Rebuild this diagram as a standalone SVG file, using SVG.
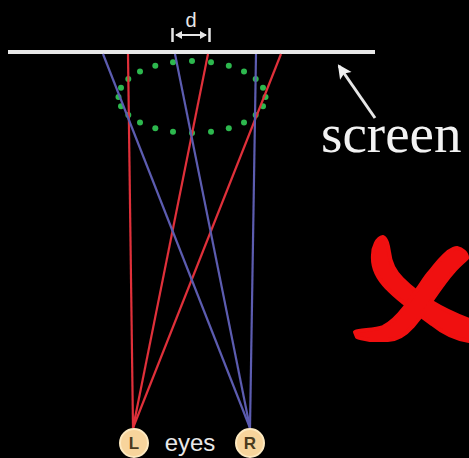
<svg xmlns="http://www.w3.org/2000/svg" width="469" height="458" viewBox="0 0 469 458">
<defs>
<style>
.red{stroke:#e0303a;stroke-width:2.2;fill:none}
.blue{stroke:#5c5cb0;stroke-width:2.2;fill:none}
.dot{fill:#2db84e}
.wl{stroke:#e6e6e6;fill:none}
.eye{fill:#f7d49c;stroke:#fde9c0;stroke-width:2}
.eyet{font-family:"Liberation Sans",Arial,sans-serif;font-size:17px;font-weight:bold;fill:#4a3b1e;text-anchor:middle}
</style>
<marker id="ah" markerWidth="8" markerHeight="8" refX="6" refY="4" orient="auto-start-reverse" markerUnits="userSpaceOnUse">
<path d="M0,0 L7,4 L0,8 Z" fill="#e6e6e6"/>
</marker>
<marker id="bigah" markerWidth="16" markerHeight="16" refX="12" refY="8" orient="auto" markerUnits="userSpaceOnUse">
<path d="M0,1 L14,8 L0,15 L3,8 Z" fill="#f0f0f0"/>
</marker>
</defs>
<rect width="469" height="458" fill="#000"/>
<g id="screen">
<line x1="8" y1="52" x2="375" y2="52" stroke="#e8e8e8" stroke-width="4"/>
</g>
<g id="dots">
<circle class="dot" cx="265.5" cy="97" r="3"/>
<circle class="dot" cx="263" cy="87.7" r="3"/>
<circle class="dot" cx="255.7" cy="79" r="3"/>
<circle class="dot" cx="244" cy="71.5" r="3"/>
<circle class="dot" cx="228.8" cy="65.8" r="3"/>
<circle class="dot" cx="211" cy="62.2" r="3"/>
<circle class="dot" cx="192" cy="61" r="3"/>
<circle class="dot" cx="173" cy="62.2" r="3"/>
<circle class="dot" cx="155.3" cy="65.8" r="3"/>
<circle class="dot" cx="140" cy="71.5" r="3"/>
<circle class="dot" cx="128.3" cy="79" r="3"/>
<circle class="dot" cx="121" cy="87.7" r="3"/>
<circle class="dot" cx="118.5" cy="97" r="3"/>
<circle class="dot" cx="121" cy="106.3" r="3"/>
<circle class="dot" cx="128.3" cy="115" r="3"/>
<circle class="dot" cx="140" cy="122.5" r="3"/>
<circle class="dot" cx="155.3" cy="128.2" r="3"/>
<circle class="dot" cx="173" cy="131.8" r="3"/>
<circle class="dot" cx="192" cy="133" r="3"/>
<circle class="dot" cx="211" cy="131.8" r="3"/>
<circle class="dot" cx="228.8" cy="128.2" r="3"/>
<circle class="dot" cx="244" cy="122.5" r="3"/>
<circle class="dot" cx="255.7" cy="115" r="3"/>
<circle class="dot" cx="263" cy="106.3" r="3"/>
</g>
<g id="connectors">
<line class="red" x1="133" y1="428" x2="128" y2="54"/>
<line class="red" x1="133" y1="428" x2="208" y2="54"/>
<line class="red" x1="133" y1="428" x2="281" y2="54"/>
<line class="blue" x1="250" y1="428" x2="103" y2="54"/>
<line class="blue" x1="250" y1="428" x2="175" y2="54"/>
<line class="blue" x1="250" y1="428" x2="256" y2="54"/>
<line class="wl" x1="375" y1="118" x2="339" y2="66" stroke-width="3" marker-end="url(#bigah)"/>
</g>
<g id="dimension">
<text x="191" y="27" font-family="'Liberation Sans',Arial,sans-serif" font-size="20" fill="#e6e6e6" text-anchor="middle">d</text>
<line class="wl" x1="172.5" y1="28" x2="172.5" y2="42" stroke-width="2.5"/>
<line class="wl" x1="209.5" y1="28" x2="209.5" y2="42" stroke-width="2.5"/>
<line class="wl" x1="176" y1="35" x2="206" y2="35" stroke-width="2" marker-start="url(#ah)" marker-end="url(#ah)"/>
</g>
<g id="screen-label">
<text x="321" y="152" font-family="'Liberation Serif','Times New Roman',serif" font-size="55" fill="#f2f2f2">screen</text>
</g>
<g id="eyeL">
<circle class="eye" cx="134" cy="443" r="14"/>
<text class="eyet" x="134" y="449">L</text>
</g>
<g id="eyes-label">
<text x="190" y="451" font-family="'Liberation Sans',Arial,sans-serif" font-size="24" fill="#e8e8e8" text-anchor="middle">eyes</text>
</g>
<g id="eyeR">
<circle class="eye" cx="250" cy="443" r="14"/>
<text class="eyet" x="250" y="449">R</text>
</g>
<g id="cross" fill="#f01010" stroke="#f01010" stroke-width="4" stroke-linejoin="round">
<path d="M383,237 C387,239 388,246 389,252 C390,262 393,270 402,279 C418,295 440,309 469,320 L469,341 C455,339 443,333 432,324 C415,312 398,300 387,288 C378,279 372,268 373,255 C373,247 377,238 383,237 Z"/>
<path d="M457,248 C462,249 467,253 467,258 C462,263 457,267 453,272 C445,281 437,293 430,303 C425,311 420,318 413,326 C405,335 397,340 388,340 L370,340 C364,339 359,338 357,337 L355,332 C360,330 375,330 383,327 C392,323 398,316 405,307 C410,300 413,295 417,290 C422,283 426,276 430,272 C436,264 442,257 448,252 C451,250 454,248 457,248 Z"/>
</g>
</svg>
